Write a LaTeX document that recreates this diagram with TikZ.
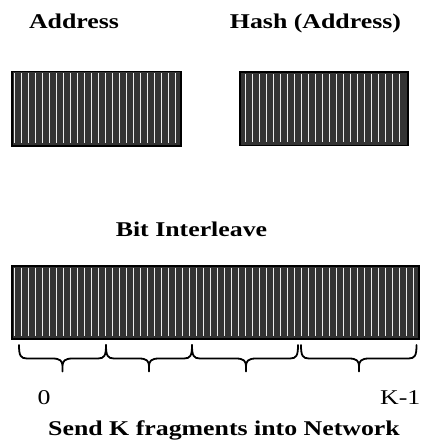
\documentclass[tikz,border=0pt]{standalone}
\usepackage{fontspec}
\setmainfont[FakeStretch=1.23]{Liberation Serif}

\tikzset{
  title/.style={font=\fontsize{21}{24}\selectfont\bfseries, inner sep=0pt, anchor=base},
  idx/.style={font=\fontsize{21}{24}\selectfont, inner sep=0pt, anchor=base},
  regbox/.style={draw=black, line width=1.5pt, fill=black!80, inner sep=0pt, anchor=north west},
  regshade/.style={fill=black!30},
  stripe/.style={draw=white!92!black, line width=0.9pt},
  fragbrace/.style={draw=black, line width=1.8pt, line cap=round, line join=round},
}

\begin{document}
\begin{tikzpicture}[x=1pt, y=-1pt]
  \useasboundingbox (0,0) rectangle (420,441);

  % labels above the registers
  \node[title] (laddr) at (74,28.7) {Address};
  \node[title] (lhash) at (315.5,28.7) {Hash (Address)};

  % address register
  \fill[regshade] (12,72) rectangle (181.8,146.8);
  \node[regbox, minimum width=169pt, minimum height=74pt] (addr) at (11,71) {};
  \foreach \k in {0,...,23}
    \draw[stripe] (14+7*\k,73.5) -- (14+7*\k,142.5);

  % hashed address register
  \fill[regshade] (240,72.5) rectangle (408.8,146.3);
  \node[regbox, minimum width=168pt, minimum height=73pt] (hash) at (239,71.5) {};
  \foreach \k in {0,...,22}
    \draw[stripe] (245.3+7*\k,74) -- (245.3+7*\k,142);

  % interleaved word
  \node[title] (linter) at (191.5,236) {Bit Interleave};
  \node[regbox, minimum width=407pt, minimum height=73pt] (inter) at (11,265) {};
  \foreach \k in {0,...,57}
    \draw[stripe] (14+7*\k,267.5) -- (14+7*\k,335.5);

  % braces marking the K fragments
  \foreach \a/\m/\b in {19/62.5/106, 106/149/192, 192/246/298, 301/359/416.5}
    \draw[fragbrace] (\a,345) .. controls (\a,355.5) and (\a+1.5,358.5) .. (\a+8,358.5)
      -- (\m-10,358.5) .. controls (\m-2.5,358.5) and (\m,361) .. (\m,366) -- (\m,371.5)
      -- (\m,366) .. controls (\m,361) and (\m+2.5,358.5) .. (\m+10,358.5)
      -- (\b-8,358.5) .. controls (\b-1.5,358.5) and (\b,355.5) .. (\b,345);

  % fragment indices and caption
  \node[idx] (first) at (44,404) {0};
  \node[idx, anchor=base west] (last) at (380,404) {K-1};
  \node[title] (send) at (224,435.5) {Send K fragments into Network};
\end{tikzpicture}
\end{document}
